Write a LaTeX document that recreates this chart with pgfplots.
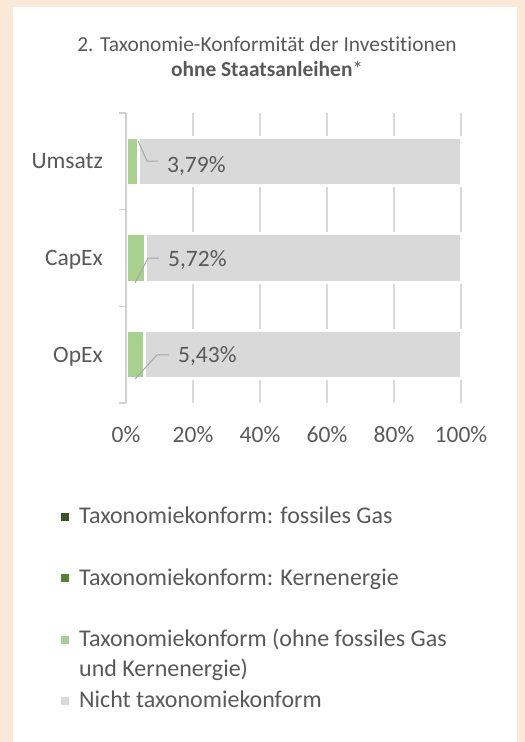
\documentclass[border=0pt]{standalone}
\usepackage{pgfplots}
\pgfplotsset{compat=1.18}
\usepackage{pgfplotstable}
\usepackage{fontspec}
\setmainfont{Carlito}[Ligatures=CommonOff]
\definecolor{bgpeach}{HTML}{FBE9D7}
\definecolor{txt}{HTML}{595959}
\definecolor{gridc}{HTML}{D9D9D9}
\definecolor{axc}{HTML}{D0D0D0}
\definecolor{lgreen}{HTML}{A9D18E}
\definecolor{mgreen}{HTML}{548235}
\definecolor{dgreen}{HTML}{375623}
\definecolor{lgray}{HTML}{D9D9D9}
\definecolor{leader}{HTML}{A6A6A6}
\pgfplotsset{sqlegend/.style={legend image code/.code={\fill[##1, draw=none] (0pt,3pt) rectangle (8pt,11pt);}}}

\pgfplotstableread{
pos gas nuc green gray
0 0 0 5.43 94.57
1 0 0 5.72 94.28
2 0 0 3.79 96.21
}\datatable

\begin{document}
\begin{tikzpicture}
\fill[bgpeach] (0pt,0pt) rectangle (525pt,742pt);
\fill[white] (13pt,0pt) rectangle (517pt,735pt);
\begin{axis}[
  at={(126pt,339pt)}, anchor=south west,
  width=335pt, height=290pt, scale only axis,
  xbar stacked, reverse stacked plots=false, bar width=0.4966,
  xmin=0, xmax=100, ymin=-0.5, ymax=2.5,
  clip=false,
  xtick={0,20,40,60,80,100},
  xticklabels={0\%,20\%,40\%,60\%,80\%,100\%},
  ytick={0,1,2}, yticklabels={OpEx,CapEx,Umsatz},
  minor ytick={-0.5,0.5,1.5,2.5},
  xmajorgrids, grid style={gridc, line width=1.3pt},
  major tick length=0pt, minor tick length=7pt,
  tick align=outside, tick pos=left,
  minor tick style={axc, line width=1.3pt},
  axis line style={draw=none},
  xticklabel style={anchor=base, inner sep=0pt, yshift=-39pt, font=\fontsize{23.5pt}{28pt}\selectfont, text=txt},
  yticklabel style={anchor=base east, inner sep=0pt, xshift=-23pt, yshift=-7.5pt, font=\fontsize{23.5pt}{28pt}\selectfont, text=txt},
  title={2. Taxonomie-Konformität der Investitionen\\\textbf{ohne Staatsanleihen}*},
  title style={at={(axis description cs:0.421,1.2445)}, anchor=north, align=center, inner sep=0pt, font=\fontsize{21.4pt}{25pt}\selectfont, text=txt},
  legend style={at={(axis description cs:-0.194,-0.352)}, anchor=north west, draw=none, fill=none, inner sep=0pt,
    row sep={61.3pt,between origins}, column sep=8pt,
    font=\fontsize{24pt}{30pt}\selectfont, text=txt,
    cells={anchor=base west, inner sep=0pt}},
]
\addplot[fill=dgreen, draw=none, sqlegend] table[x=gas,y=pos]{\datatable};
\addlegendentry{Taxonomiekonform: fossiles Gas}
\addplot[fill=mgreen, draw=none, sqlegend] table[x=nuc,y=pos]{\datatable};
\addlegendentry{Taxonomiekonform: Kernenergie}
\addplot[fill=lgreen, draw=white, line width=3pt, sqlegend] table[x=green,y=pos]{\datatable};
\addlegendentry{\begin{tabular}[t]{@{}l@{}}Taxonomiekonform (ohne fossiles Gas\\und Kernenergie)\end{tabular}}
\addplot[fill=lgray, draw=white, line width=3pt, sqlegend] table[x=gray,y=pos]{\datatable};
\addlegendentry{Nicht taxonomiekonform}
% axis line on top of bars
\draw[axc, line width=1.3pt] (axis cs:0,-0.5) -- (axis cs:0,2.5);
% leader lines
\draw[leader, line width=1pt] (axis cs:3.6,2.21) -- (axis cs:6.27,2.003) -- (axis cs:9.55,2.003);
\draw[leader, line width=1pt] (axis cs:2.69,0.741) -- (axis cs:6.57,1.0) -- (axis cs:9.85,1.0);
\draw[leader, line width=1pt] (axis cs:2.69,-0.252) -- (axis cs:9.25,-0.003) -- (axis cs:12.84,-0.003);
% data labels
\node[anchor=base west, inner sep=0pt, text=txt, font=\fontsize{23.5pt}{28pt}\selectfont] at (axis cs:12.24,1.889) {3,79\%};
\node[anchor=base west, inner sep=0pt, text=txt, font=\fontsize{23.5pt}{28pt}\selectfont] at (axis cs:12.54,0.907) {5,72\%};
\node[anchor=base west, inner sep=0pt, text=txt, font=\fontsize{23.5pt}{28pt}\selectfont] at (axis cs:15.52,-0.083) {5,43\%};
\end{axis}
\end{tikzpicture}
\end{document}
